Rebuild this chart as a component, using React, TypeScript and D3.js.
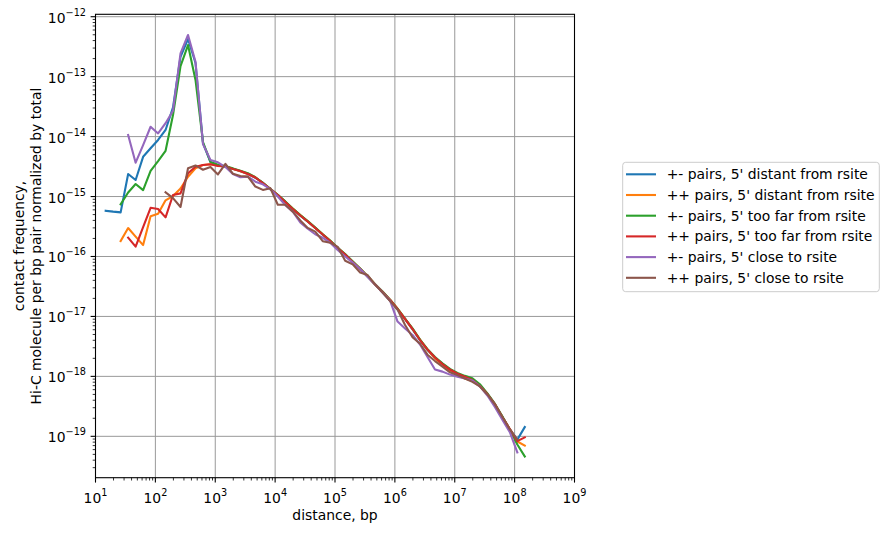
import * as d3 from 'd3';

// distance bins (bp), log-spaced
const distances = [
  14.8, 19.7, 26.3, 35.1, 46.8, 62.4, 83.2, 111, 148, 197, 263, 351, 468, 624, 832,
  1109, 1479, 1972, 2630, 3508, 4677, 6237, 8318, 11092, 14791, 19724, 26303, 35075, 46774, 62373,
  83176, 110917, 147911, 197242, 263027, 350752, 467735, 623735, 831764, 1.109e6, 1.479e6, 1.972e6, 2.63e6, 3.508e6, 4.677e6,
  6.237e6, 8.318e6, 1.109e7, 1.479e7, 1.972e7, 2.63e7, 3.508e7, 4.677e7, 6.237e7, 8.318e7, 1.109e8, 1.479e8,
];

const pmDistant = [
  5.8e-16, 5.6e-16, 5.45e-16, 2.38e-15, 1.89e-15, 4.6e-15, 6.4e-15, 8.8e-15, 1.29e-14, 3.08e-14, 2.15e-13, 4.25e-13, 1.69e-13, 7.8e-15, 3.77e-15,
  3.3e-15, 3.15e-15, 2.9e-15, 2.65e-15, 2.4e-15, 2.05e-15, 1.7e-15, 1.32e-15, 1.05e-15, 8.2e-16, 6.2e-16, 4.8e-16, 3.8e-16, 3.0e-16, 2.3e-16,
  1.8e-16, 1.4e-16, 1.07e-16, 8.0e-17, 6.2e-17, 4.6e-17, 3.4e-17, 2.5e-17, 1.85e-17, 1.3e-17, 9.0e-18, 6.1e-18, 4.0e-18, 2.75e-18, 2.05e-18,
  1.6e-18, 1.3e-18, 1.1e-18, 9.8e-19, 8.8e-19, 7.0e-19, 5.1e-19, 3.4e-19, 2.1e-19, 1.3e-19, 8.8e-20, 1.43e-19,
];

const ppDistant = [
  null, null, 1.81e-16, 2.98e-16, 2.14e-16, 1.55e-16, 4.68e-16, 5.15e-16, 8.65e-16, 1.02e-15, 1.36e-15, 2.14e-15, 2.96e-15, 3.35e-15, 3.45e-15,
  3.3e-15, 3.2e-15, 2.9e-15, 2.65e-15, 2.38e-15, 2.1e-15, 1.68e-15, 1.34e-15, 1.06e-15, 8.1e-16, 6.3e-16, 4.9e-16, 3.85e-16, 3.0e-16, 2.35e-16,
  1.82e-16, 1.39e-16, 1.08e-16, 8.2e-17, 6.3e-17, 4.7e-17, 3.45e-17, 2.55e-17, 1.9e-17, 1.35e-17, 9.1e-18, 6.2e-18, 4.1e-18, 2.8e-18, 2.0e-18,
  1.55e-18, 1.25e-18, 1.03e-18, 9.2e-19, 8.4e-19, 6.9e-19, 5.0e-19, 3.4e-19, 2.1e-19, 1.32e-19, 8.2e-20, 7.0e-20,
];

const pmTooFar = [
  null, null, 7.4e-16, 1.17e-15, 1.62e-15, 1.28e-15, 2.67e-15, 3.9e-15, 5.8e-15, 2.29e-14, 1.5e-13, 3.37e-13, 8.8e-14, 8.1e-15, 3.77e-15,
  3.4e-15, 3.2e-15, 2.95e-15, 2.7e-15, 2.45e-15, 2.1e-15, 1.7e-15, 1.35e-15, 1.07e-15, 8.3e-16, 6.3e-16, 4.9e-16, 3.9e-16, 3.05e-16, 2.35e-16,
  1.85e-16, 1.4e-16, 1.1e-16, 8.3e-17, 6.3e-17, 4.7e-17, 3.45e-17, 2.6e-17, 1.9e-17, 1.35e-17, 9.2e-18, 6.3e-18, 4.1e-18, 2.85e-18, 2.1e-18,
  1.65e-18, 1.33e-18, 1.14e-18, 1.02e-18, 9.3e-19, 7.4e-19, 5.2e-19, 3.5e-19, 2.15e-19, 1.3e-19, 7.3e-20, 4.6e-20,
];

const ppTooFar = [
  null, null, null, 2.06e-16, 1.46e-16, 3.1e-16, 6.5e-16, 6.2e-16, 4.5e-16, 1.06e-15, 1.13e-15, 2.44e-15, 3.15e-15, 3.36e-15, 3.45e-15,
  3.23e-15, 3.17e-15, 2.88e-15, 2.67e-15, 2.38e-15, 2.08e-15, 1.68e-15, 1.33e-15, 1.06e-15, 8.1e-16, 6.2e-16, 4.83e-16, 3.83e-16, 2.98e-16, 2.32e-16,
  1.81e-16, 1.38e-16, 1.08e-16, 8.1e-17, 6.2e-17, 4.63e-17, 3.4e-17, 2.55e-17, 1.88e-17, 1.33e-17, 9.06e-18, 6.17e-18, 4.04e-18, 2.8e-18, 2.06e-18,
  1.61e-18, 1.3e-18, 1.11e-18, 9.9e-19, 8.7e-19, 6.9e-19, 5.07e-19, 3.45e-19, 2.1e-19, 1.32e-19, 8.3e-20, 9.6e-20,
];

const pmClose = [
  null, null, null, 1.06e-14, 3.67e-15, 7.2e-15, 1.46e-14, 1.13e-14, 1.67e-14, 2.7e-14, 2.45e-13, 4.95e-13, 1.77e-13, 7.5e-15, 4.06e-15,
  3.72e-15, 3.1e-15, 2.38e-15, 2.1e-15, 2.15e-15, 1.77e-15, 1.6e-15, 1.33e-15, 1.0e-15, 7.2e-16, 5.6e-16, 3.7e-16, 2.9e-16, 2.35e-16, 2.05e-16,
  1.7e-16, 1.28e-16, 1.0e-16, 7.9e-17, 6.2e-17, 4.6e-17, 3.4e-17, 2.5e-17, 1.83e-17, 8.2e-18, 6.3e-18, 4.9e-18, 3.4e-18, 2.1e-18, 1.3e-18,
  1.2e-18, 1.07e-18, 9.9e-19, 9.2e-19, 8.5e-19, 6.8e-19, 4.8e-19, 3.1e-19, 1.9e-19, 1.17e-19, 5.4e-20, null,
];

const ppClose = [
  null, null, null, null, null, null, null, null, 1.18e-15, 9.4e-16, 6.7e-16, 2.97e-15, 3.3e-15, 2.8e-15, 3.1e-15,
  2.34e-15, 3.5e-15, 2.4e-15, 2.2e-15, 2.15e-15, 1.47e-15, 1.29e-15, 1.38e-15, 7.3e-16, 7.3e-16, 5.6e-16, 4.0e-16, 3.0e-16, 2.6e-16, 1.8e-16,
  1.7e-16, 1.45e-16, 8.5e-17, 7.4e-17, 5.4e-17, 4.9e-17, 3.4e-17, 2.5e-17, 1.8e-17, 1.3e-17, 7.2e-18, 4.5e-18, 3.5e-18, 2.3e-18, 1.8e-18,
  1.45e-18, 1.17e-18, 1.05e-18, 9.2e-19, 8.1e-19, 6.8e-19, 5.0e-19, 3.4e-19, 2.1e-19, 1.3e-19, 8.8e-20, null,
];

const seriesLabels = [
  "+- pairs, 5' distant from rsite",
  "++ pairs, 5' distant from rsite",
  "+- pairs, 5' too far from rsite",
  "++ pairs, 5' too far from rsite",
  "+- pairs, 5' close to rsite",
  "++ pairs, 5' close to rsite",
];
const seriesValues = [pmDistant, ppDistant, pmTooFar, ppTooFar, pmClose, ppClose];
const colors = ['#1f77b4', '#ff7f0e', '#2ca02c', '#d62728', '#9467bd', '#8c564b'];

const W = 889;
const H = 535;
const left = 95.5, right = 574.5, top = 14.3, bottom = 477.7;
const font = 'DejaVu Sans, sans-serif';

const App = () => {
  const x = d3.scaleLog().domain([10, 1e9]).range([left, right]);
  const y = d3.scaleLog().domain([2.04e-20, 1.097e-12]).range([bottom, top]);

  const isMajor = (v: number) => Math.abs(Math.log10(v) - Math.round(Math.log10(v))) < 1e-6;
  const xTicks = x.ticks();
  const yTicks = y.ticks().filter(v => v >= 2.04e-20 && v <= 1.097e-12);

  const line = d3.line<[number, number | null]>()
    .defined(d => d[1] != null)
    .x(d => x(d[0]))
    .y(d => y(d[1] as number));

  const legX = 622.7, legY = 162.3, legStep = 20.7;

  return (
    <svg width={W} height={H} style={{ position: 'absolute', left: 0, top: 0, background: '#fff' }}
      fontFamily={font}>
      <rect width={W} height={H} fill="#fff" />
      {/* grid */}
      {xTicks.filter(isMajor).map(v => (
        <line key={'gx' + v} x1={x(v)} x2={x(v)} y1={top} y2={bottom} stroke="#999" strokeWidth={1} />
      ))}
      {yTicks.filter(isMajor).map(v => (
        <line key={'gy' + v} x1={left} x2={right} y1={y(v)} y2={y(v)} stroke="#999" strokeWidth={1} />
      ))}
      {/* data */}
      <g clipPath="url(#plotclip)">
        {seriesValues.map((vals, i) => (
          <path key={i} d={line(distances.map((d, j) => [d, vals[j]] as [number, number | null])) || ''}
            fill="none" stroke={colors[i]} strokeWidth={2.1} strokeLinejoin="round" strokeLinecap="square" />
        ))}
      </g>
      <defs>
        <clipPath id="plotclip"><rect x={left} y={top} width={right - left} height={bottom - top} /></clipPath>
      </defs>
      {/* spines */}
      <rect x={left} y={top} width={right - left} height={bottom - top} fill="none" stroke="#000" strokeWidth={1.1} />
      {/* x ticks */}
      {xTicks.map(v => (
        <line key={'tx' + v} x1={x(v)} x2={x(v)} y1={bottom} y2={bottom + (isMajor(v) ? 4.9 : 2.8)}
          stroke="#000" strokeWidth={isMajor(v) ? 1.1 : 0.8} />
      ))}
      {xTicks.filter(isMajor).map(v => (
        <text key={'lx' + v} x={x(v)} y={502.5} textAnchor="middle" fontSize={13.9} fill="#000">
          <tspan>10</tspan>
          <tspan dy={-6.5} fontSize={9.7}>{Math.round(Math.log10(v))}</tspan>
        </text>
      ))}
      {/* y ticks */}
      {yTicks.map(v => (
        <line key={'ty' + v} x1={left} x2={left - (isMajor(v) ? 4.9 : 2.8)} y1={y(v)} y2={y(v)}
          stroke="#000" strokeWidth={isMajor(v) ? 1.1 : 0.8} />
      ))}
      {yTicks.filter(isMajor).map(v => (
        <text key={'ly' + v} x={86} y={y(v) + 6} textAnchor="end" fontSize={13.9} fill="#000">
          <tspan>10</tspan>
          <tspan dy={-7} fontSize={9.7}>{'\u2212' + Math.abs(Math.round(Math.log10(v)))}</tspan>
        </text>
      ))}
      {/* axis labels */}
      <text x={(left + right) / 2} y={520} textAnchor="middle" fontSize={13.9} fill="#000">distance, bp</text>
      <g transform={`translate(24, ${(top + bottom) / 2}) rotate(-90)`}>
        <text x={0} y={0} textAnchor="middle" fontSize={13.9} fill="#000">contact frequency,</text>
      </g>
      <g transform={`translate(40.7, ${(top + bottom) / 2}) rotate(-90)`}>
        <text x={0} y={0} textAnchor="middle" fontSize={13.9} fill="#000">Hi-C molecule per bp pair normalized by total</text>
      </g>
      {/* legend */}
      <rect x={legX} y={legY} width={256.6} height={129.4} rx={3} fill="#fff" stroke="#ccc" strokeWidth={1} />
      {seriesLabels.map((lab, i) => {
        const cy = 174.3 + i * legStep;
        return (
          <g key={'leg' + i}>
            <line x1={626} x2={656} y1={cy} y2={cy} stroke={colors[i]} strokeWidth={2.1} />
            <text x={666.7} y={cy + 5} fontSize={13.9} fill="#000">{lab}</text>
          </g>
        );
      })}
    </svg>
  );
};

export default App;
